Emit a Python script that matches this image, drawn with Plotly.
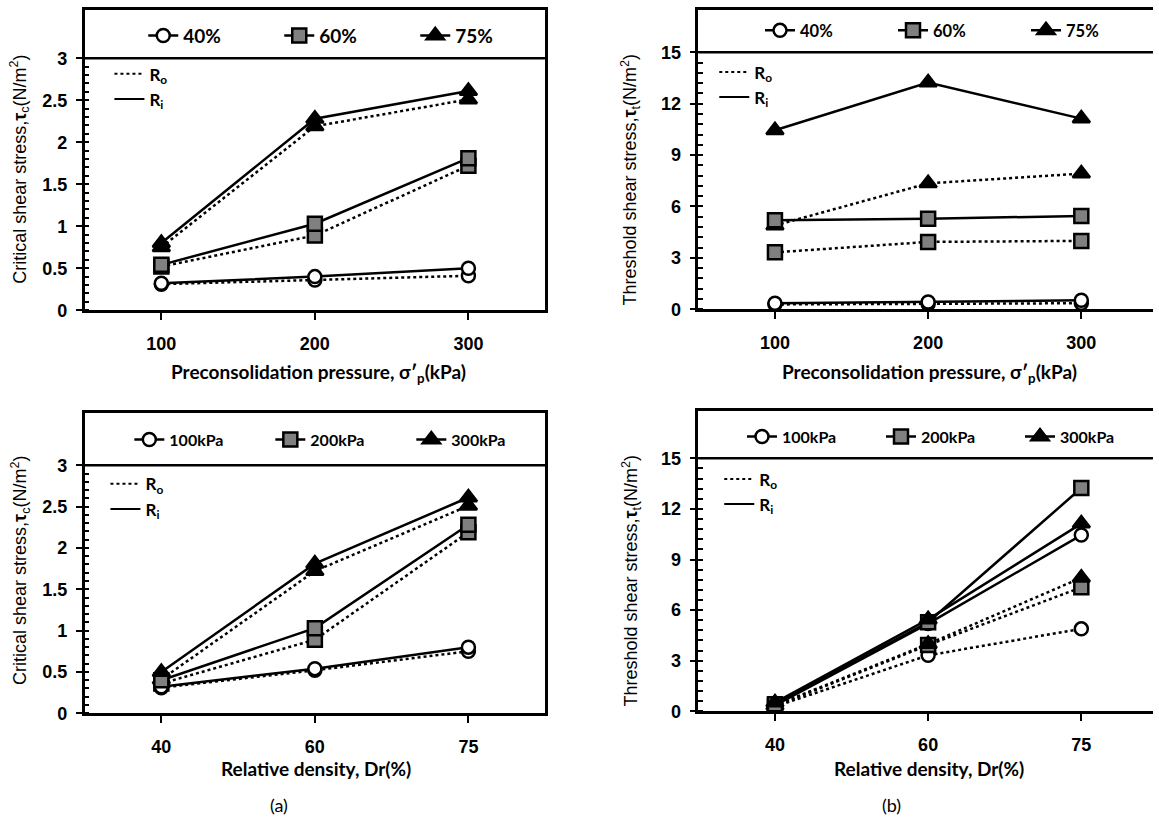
import numpy as np
import plotly.graph_objects as go

# ---------------- data ----------------
pressure = [100, 200, 300]            # preconsolidation pressure (kPa)
density = ["40", "60", "75"]          # relative density Dr (%)
dr_names = ["40%", "60%", "75%"]
p_names = ["100kPa", "200kPa", "300kPa"]

# critical shear stress tau_c (N/m2), per Dr, at 100/200/300 kPa
tc_ri_40 = [0.32, 0.40, 0.50]
tc_ro_40 = [0.31, 0.36, 0.41]
tc_ri_60 = [0.54, 1.03, 1.81]
tc_ro_60 = [0.52, 0.89, 1.72]
tc_ri_75 = [0.80, 2.28, 2.61]
tc_ro_75 = [0.75, 2.19, 2.51]

# threshold shear stress tau_t (N/m2), per Dr, at 100/200/300 kPa
tt_ri_40 = [0.35, 0.42, 0.52]
tt_ro_40 = [0.28, 0.30, 0.35]
tt_ri_60 = [5.20, 5.28, 5.45]
tt_ro_60 = [3.32, 3.93, 3.99]
tt_ri_75 = [10.45, 13.24, 11.13]
tt_ro_75 = [4.89, 7.35, 7.92]

tc_ri = [tc_ri_40, tc_ri_60, tc_ri_75]
tc_ro = [tc_ro_40, tc_ro_60, tc_ro_75]
tt_ri = [tt_ri_40, tt_ri_60, tt_ri_75]
tt_ro = [tt_ro_40, tt_ro_60, tt_ro_75]


def transpose(m):
    return [list(r) for r in zip(*m)]


W, H = 1159, 828
SYM = ["circle", "square", "triangle-up"]
FILL = ["white", "#808080", "black"]
MSIZE = [13, 14, 15]
TICKFONT = dict(family="Liberation Sans, Arial", size=18, color="black", weight="bold")
LEGFONT = "Lato, Open Sans, sans-serif"


def fx(p):
    return p / W


def fy(p):
    return 1 - p / H


panels = [
    dict(n="", xdom=(85, 548), ydom=(10, 314), xr=[50, 350], yr=[0, 3.576], cat=False,
         xv=pressure, ymax=3, major=0.5, minor=0.1, ri=tc_ri, ro=tc_ro, names=dr_names,
         mirror=True, top=dict(x=144, y=36, ew=91, fs=19), rl=dict(x=110, y=74)),
    dict(n="2", xdom=(702, 1159), ydom=(10, 313), xr=[50, 346.8], yr=[0, 17.48], cat=False,
         xv=pressure, ymax=15, major=3, minor=0.6, ri=tt_ri, ro=tt_ro, names=dr_names,
         mirror=False, top=dict(x=764, y=31, ew=88, fs=16.5), rl=dict(x=718, y=72)),
    dict(n="3", xdom=(85, 548), ydom=(418, 722), xr=[-0.5, 2.5], yr=[0, 3.633], cat=True,
         xv=density, ymax=3, major=0.5, minor=0.1, ri=transpose(tc_ri), ro=transpose(tc_ro),
         names=p_names, mirror=True, top=dict(x=130, y=445, ew=96, fs=16), rl=dict(x=106, y=489)),
    dict(n="4", xdom=(702, 1159), ydom=(416, 720), xr=[-0.5, 2.468], yr=[0, 17.81], cat=True,
         xv=density, ymax=15, major=3, minor=0.6, ri=transpose(tt_ri), ro=transpose(tt_ro),
         names=p_names, mirror=False, top=dict(x=746, y=442, ew=94, fs=16), rl=dict(x=723, y=484)),
]

fig = go.Figure()
layout = dict(width=W, height=H, margin=dict(l=0, r=0, t=0, b=0),
              paper_bgcolor="white", plot_bgcolor="white", showlegend=True)
shapes = []

for i, p in enumerate(panels):
    xa, ya = "x" + p["n"], "y" + p["n"]
    top_leg = "legend" + ("" if i == 0 else str(i + 1))
    r_leg = "legend" + str(i + 5)
    # dotted R_o series
    for k in range(3):
        fig.add_trace(go.Scatter(
            x=p["xv"], y=p["ro"][k], xaxis=xa, yaxis=ya, mode="lines+markers",
            line=dict(color="black", width=2.5, dash="dot"),
            marker=dict(symbol=SYM[k], size=MSIZE[k], color=FILL[k], line=dict(color="black", width=2.5)),
            showlegend=False, hoverinfo="skip"))
    # solid R_i series (also carry the top legend)
    for k in range(3):
        fig.add_trace(go.Scatter(
            x=p["xv"], y=p["ri"][k], xaxis=xa, yaxis=ya, mode="lines+markers", name=p["names"][k],
            line=dict(color="black", width=2.5),
            marker=dict(symbol=SYM[k], size=MSIZE[k], color=FILL[k], line=dict(color="black", width=2.5)),
            legend=top_leg, showlegend=True, hoverinfo="skip"))
    # line-style key
    for nm, ds in (("R<sub>o</sub>", "dot"), ("R<sub>i</sub>", "solid")):
        fig.add_trace(go.Scatter(
            x=[None], y=[None], xaxis=xa, yaxis=ya, mode="lines", name=nm,
            line=dict(color="black", width=2, dash=ds), legend=r_leg, showlegend=True))

    t = p["top"]
    layout[top_leg] = dict(orientation="h", x=fx(t["x"]), xanchor="left", y=fy(t["y"]), yanchor="middle",
                           entrywidth=t["ew"], entrywidthmode="pixels", bgcolor="rgba(0,0,0,0)",
                           font=dict(family=LEGFONT, size=t["fs"], color="black", weight="bold"),
                           itemsizing="trace", traceorder="normal")
    r = p["rl"]
    layout[r_leg] = dict(orientation="v", x=fx(r["x"]), xanchor="left", y=fy(r["y"] - 17), yanchor="top",
                         bgcolor="rgba(0,0,0,0)", tracegroupgap=0,
                         font=dict(family=LEGFONT, size=17, color="black", weight="bold"),
                         traceorder="normal")

    xkey = "xaxis" + p["n"]
    ykey = "yaxis" + p["n"]
    xaxis = dict(domain=[fx(p["xdom"][0]), fx(p["xdom"][1])], range=p["xr"], anchor=ya,
                 showline=True, linecolor="black", linewidth=2.5, mirror=True,
                 showgrid=False, zeroline=False, ticks="outside", ticklen=7, tickwidth=2,
                 tickcolor="black", tickfont=TICKFONT, ticklabelstandoff=8, fixedrange=True)
    if p["cat"]:
        xaxis.update(type="category", categoryorder="array", categoryarray=p["xv"])
    else:
        xaxis.update(tickmode="array", tickvals=p["xv"])
    majors = [float(v) for v in np.round(np.arange(0, p["ymax"] + 1e-9, p["major"]), 3)]
    minors = [float(v) for v in np.round(np.arange(0, p["ymax"] + 1e-9, p["minor"]), 3)]
    yaxis = dict(domain=[fy(p["ydom"][1]), fy(p["ydom"][0])], range=p["yr"], anchor=xa,
                 showline=True, linecolor="black", linewidth=2.5, mirror=p["mirror"],
                 showgrid=False, zeroline=False, tickmode="array", tickvals=majors,
                 ticks="outside", ticklen=6, tickwidth=2, tickcolor="black",
                 tickfont=TICKFONT, ticklabelstandoff=5, fixedrange=True,
                 minor=dict(tickmode="array", tickvals=minors, ticks="inside", ticklen=5,
                            tickwidth=1.5, tickcolor="black", showgrid=False))
    layout[xkey] = xaxis
    layout[ykey] = yaxis
    shapes.append(dict(type="line", xref=xa + " domain", yref=ya, x0=0, x1=1,
                       y0=p["ymax"], y1=p["ymax"], line=dict(color="black", width=2.5)))

TITLEFONT = dict(family="Liberation Sans, Arial", size=18, color="black")
XTFONT = dict(family=LEGFONT, size=19, color="black", weight="bold")
annotations = [
    dict(text="Critical shear stress,<b>τ</b><sub>c</sub>(N/m<sup>2</sup>)", x=fx(20), y=fy(171),
         textangle=-90, font=TITLEFONT),
    dict(text="Threshold shear stress,<b>τ</b><sub>t</sub>(N/m<sup>2</sup>)", x=fx(634), y=fy(182),
         textangle=-90, font=TITLEFONT),
    dict(text="Critical shear stress,<b>τ</b><sub>c</sub>(N/m<sup>2</sup>)", x=fx(20), y=fy(577),
         textangle=-90, font=TITLEFONT),
    dict(text="Threshold shear stress,<b>τ</b><sub>t</sub>(N/m<sup>2</sup>)", x=fx(635), y=fy(588),
         textangle=-90, font=TITLEFONT),
    dict(text="Preconsolidation pressure, σ′<sub>p</sub>(kPa)", x=fx(320), y=fy(378), font=XTFONT),
    dict(text="Preconsolidation pressure, σ′<sub>p</sub>(kPa)", x=fx(934), y=fy(378), font=XTFONT),
    dict(text="Relative density, Dr(%)", x=fx(318), y=fy(778), font=XTFONT),
    dict(text="Relative density, Dr(%)", x=fx(934), y=fy(778), font=XTFONT),
    dict(text="(a)", x=fx(280), y=fy(815), font=dict(family=LEGFONT, size=18, color="black")),
    dict(text="(b)", x=fx(896), y=fy(815), font=dict(family=LEGFONT, size=18, color="black")),
]
for a in annotations:
    a.update(xref="paper", yref="paper", showarrow=False, xanchor="center", yanchor="middle")

layout["annotations"] = annotations
layout["shapes"] = shapes
fig.update_layout(**layout)
fig.write_html("out.html")
